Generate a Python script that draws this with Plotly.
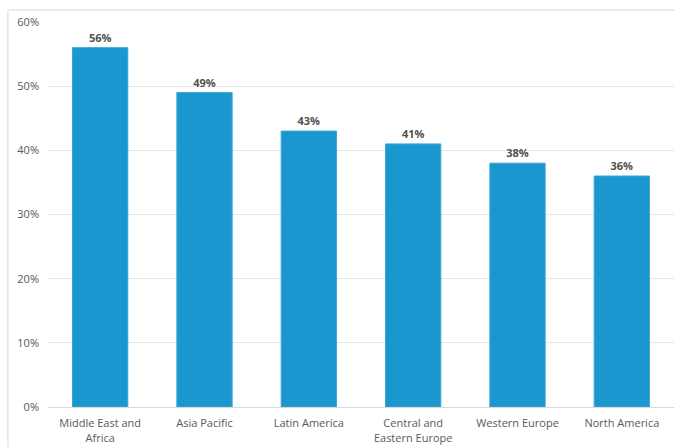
import plotly.graph_objects as go

regions = ["Middle East and<br>Africa", "Asia Pacific", "Latin America",
           "Central and<br>Eastern Europe", "Western Europe", "North America"]
shares = [56, 49, 43, 41, 38, 36]
y_ticks = [0, 10, 20, 30, 40, 50, 60]
y_tick_labels = [f"{v}%" for v in y_ticks]

fig = go.Figure(
    go.Bar(
        x=regions,
        y=shares,
        width=0.53,
        marker=dict(color="#1b97cf", line=dict(color="#3aa6d9", width=1)),
        text=[f"{v}%" for v in shares],
        textposition="outside",
        textfont=dict(family="Open Sans, sans-serif", size=11, color="#505050", weight=700),
        cliponaxis=False,
    )
)

# Light frame around the chart area
fig.add_shape(
    type="rect", xref="paper", yref="paper",
    x0=-0.064, x1=1.1, y0=-0.2, y1=1.031,
    line=dict(color="#d9d9d9", width=1), fillcolor="rgba(0,0,0,0)", layer="below",
)

fig.update_layout(
    width=674, height=447,
    margin=dict(l=48, r=0, t=22, b=40),
    paper_bgcolor="white", plot_bgcolor="white",
    showlegend=False,
    bargap=0.47,
    font=dict(family="Open Sans, sans-serif", size=11, color="#595959"),
    xaxis=dict(
        showgrid=False, showline=True, linecolor="#d9d9d9", linewidth=1,
        ticks="", tickfont=dict(size=11, color="#595959"), ticklabelstandoff=6,
    ),
    yaxis=dict(
        range=[0, 60], tickvals=y_ticks, ticktext=y_tick_labels,
        showgrid=True, gridcolor="#e6e6e6", gridwidth=1,
        zeroline=False, showline=False, ticks="",
        tickfont=dict(size=11, color="#595959"), ticklabelstandoff=8,
    ),
)

fig.write_html("out.html")
